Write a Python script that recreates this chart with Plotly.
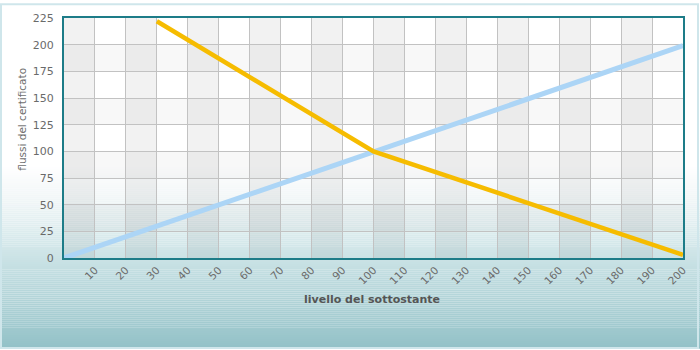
import plotly.graph_objects as go

# ---- data ----
blue_x = [0, 200]
blue_y = [0, 199]
orange_x = [30, 100, 200]
orange_y = [222, 100, 3]
x_ticks = list(range(10, 201, 10))
y_ticks = [0, 25, 50, 75, 100, 125, 150, 175, 200, 225]
x_title = "livello del sottostante"
y_title = "flussi del certificato"

W, H = 700, 350
L, R, T, B = 64, 17, 15, 92
PW, PH = W - L - R, H - T - B

def px(x):
    return (x - L) / PW

def py(y):
    return (H - B - y) / PH

def hexmix(c1, c2, t):
    a = [int(c1[i:i + 2], 16) for i in (1, 3, 5)]
    b = [int(c2[i:i + 2], 16) for i in (1, 3, 5)]
    return "#%02x%02x%02x" % tuple(round(a[k] + (b[k] - a[k]) * t) for k in range(3))

stops = [(0, "#ffffff"), (165, "#ffffff"), (200, "#f1f6f7"), (232, "#dcecee"),
         (262, "#c8e1e4"), (300, "#b2d4d8"), (350, "#92c1c7")]

def grad(y):
    for (y0, c0), (y1, c1) in zip(stops[:-1], stops[1:]):
        if y0 <= y <= y1:
            return hexmix(c0, c1, (y - y0) / (y1 - y0) if y1 > y0 else 0)
    return stops[-1][1]

shapes = []
step = 2
for y in range(160, 350, step):
    shapes.append(dict(type="rect", xref="paper", yref="paper", layer="below",
                       x0=px(0), x1=px(W), y0=py(y + step), y1=py(y),
                       fillcolor=grad(y + step / 2), line=dict(width=0)))
# column bands
for i in range(0, 200, 20):
    shapes.append(dict(type="rect", xref="x", yref="y", layer="below",
                       x0=i, x1=i + 10, y0=0, y1=225,
                       fillcolor="rgba(0,0,0,0.05)", line=dict(width=0)))
# row bands
for j in [25, 75, 125, 175]:
    shapes.append(dict(type="rect", xref="x", yref="y", layer="below",
                       x0=0, x1=200, y0=j, y1=j + 25,
                       fillcolor="rgba(0,0,0,0.028)", line=dict(width=0)))
# outer frame
shapes.append(dict(type="rect", xref="paper", yref="paper", layer="above",
                   x0=px(1), x1=px(W - 2), y0=py(H - 1), y1=py(1),
                   line=dict(color="#cfe6eb", width=2), fillcolor="rgba(0,0,0,0)"))

fig = go.Figure()
fig.add_trace(go.Scatter(x=blue_x, y=blue_y, mode="lines",
                         line=dict(color="#acd5f6", width=5), cliponaxis=True))
fig.add_trace(go.Scatter(x=orange_x, y=orange_y, mode="lines",
                         line=dict(color="#f6bc00", width=4.5), cliponaxis=True))

fig.update_layout(
    width=W, height=H,
    margin=dict(l=L, r=R, t=T, b=B, pad=0),
    paper_bgcolor="#ffffff",
    plot_bgcolor="rgba(0,0,0,0)",
    showlegend=False,
    font=dict(family="DejaVu Sans", size=11, color="#666666"),
    shapes=shapes,
    xaxis=dict(range=[0, 200], tickvals=x_ticks, ticktext=[str(v) for v in x_ticks],
               tickangle=-45, showgrid=True, gridcolor="#c2c2c2", gridwidth=1,
               showline=True, linecolor="#1d7c88", linewidth=2, mirror=True,
               zeroline=False, ticks="", tickfont=dict(size=10.5, color="#6a6a6a")),
    yaxis=dict(range=[0, 225], tickvals=y_ticks, showgrid=True, gridcolor="#c2c2c2",
               gridwidth=1, showline=True, linecolor="#1d7c88", linewidth=2, mirror=True,
               zeroline=False, ticks="", ticklabelstandoff=6,
               tickfont=dict(size=11, color="#6a6a6a")),
    annotations=[
        dict(text="<b>" + x_title + "</b>", xref="paper", yref="paper", x=px(372), y=py(300),
             showarrow=False, xanchor="center", yanchor="middle",
             font=dict(size=11, color="#555555", family="DejaVu Sans")),
        dict(text=y_title, xref="paper", yref="paper", x=px(22), y=py(118),
             showarrow=False, xanchor="center", yanchor="middle", textangle=-90,
             font=dict(size=10.5, color="#6e6e6e", family="DejaVu Sans")),
    ],
)

fig.write_html("out.html")
